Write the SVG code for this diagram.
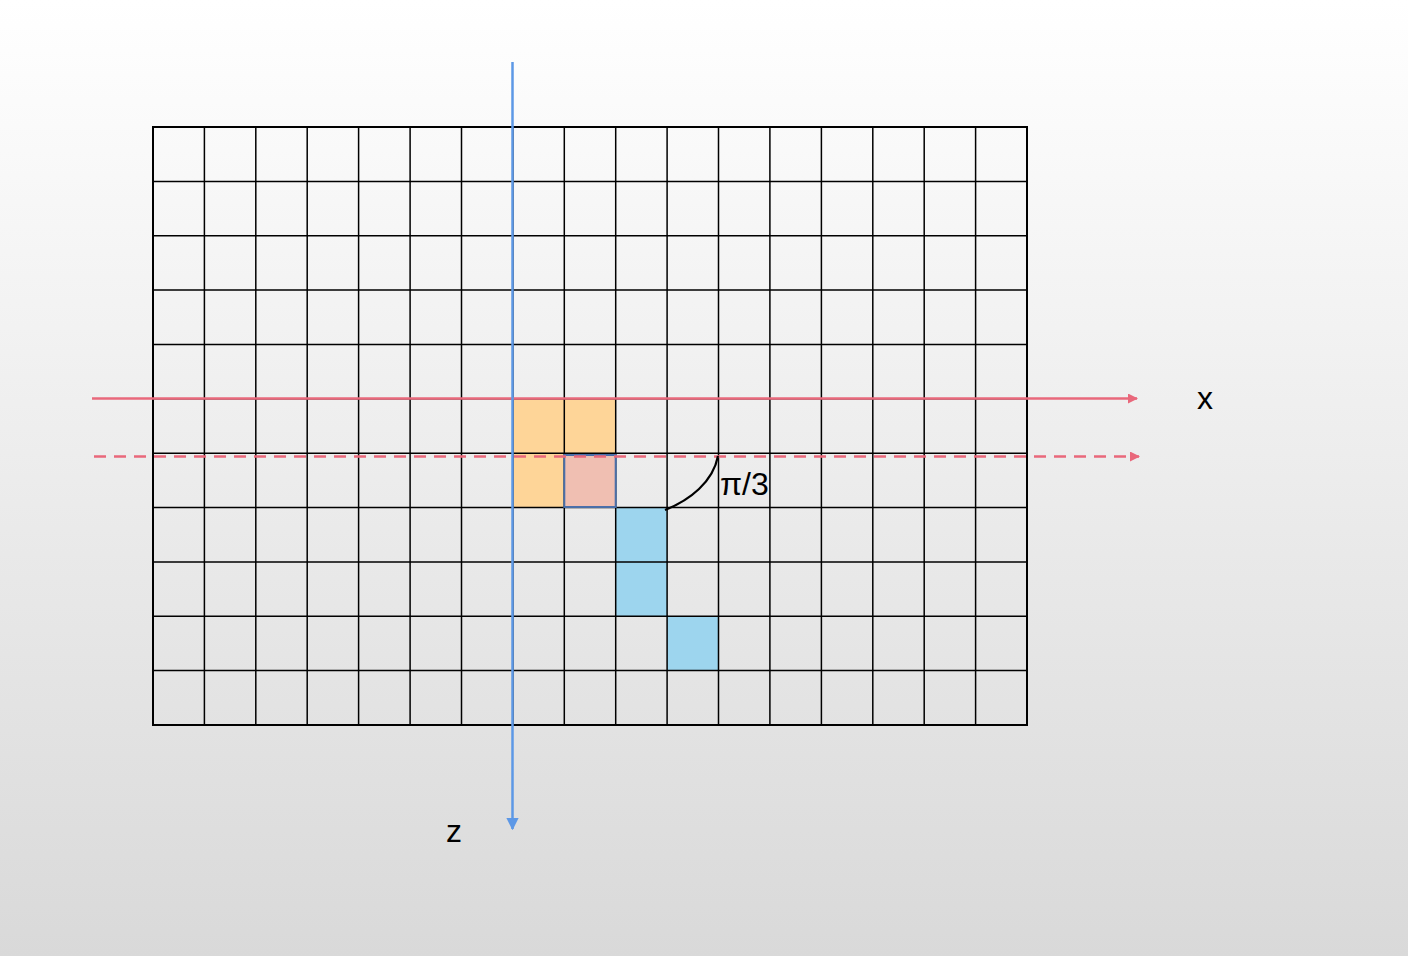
<svg xmlns="http://www.w3.org/2000/svg" width="1408" height="956" viewBox="0 0 1408 956">
<defs>
<linearGradient id="bg" x1="0" y1="0" x2="0" y2="1">
<stop offset="0" stop-color="#ffffff"/>
<stop offset="1" stop-color="#d9d9d9"/>
</linearGradient>
<marker id="ar" viewBox="0 0 10 10" refX="9" refY="5" markerWidth="4" markerHeight="4" orient="auto" markerUnits="strokeWidth">
<path d="M0,0 L10,5 L0,10 Z" fill="#e9687b"/>
</marker>
<marker id="ab" viewBox="0 0 10 10" refX="9" refY="5" markerWidth="5" markerHeight="5" orient="auto" markerUnits="strokeWidth">
<path d="M0,0 L10,5 L0,10 Z" fill="#5d98e6"/>
</marker>
</defs>
<style>
.grid{stroke:#000;stroke-width:1.5;fill:none}
.or{fill:#fed598}
.bl{fill:#9dd5ee}
.lbl{font-family:"Liberation Sans",Arial,sans-serif;fill:#000;font-size:32px}
</style>
<rect width="1408" height="956" fill="url(#bg)"/>
<g id="cells">
<rect class="or" x="512.9" y="398.8" width="51.4" height="54.4"/>
<rect class="or" x="564.3" y="398.8" width="51.4" height="54.4"/>
<rect class="or" x="512.9" y="453.2" width="51.4" height="54.3"/>
<rect class="bl" x="615.7" y="507.5" width="51.4" height="54.4"/>
<rect class="bl" x="615.7" y="561.9" width="51.4" height="54.4"/>
<rect class="bl" x="667.1" y="616.3" width="51.4" height="54.3"/>
</g>
<g id="grid">
<path class="grid" d="M153,127V725M204.4,127V725M255.8,127V725M307.2,127V725M358.6,127V725M410.1,127V725M461.5,127V725M512.9,127V725M564.3,127V725M615.7,127V725M667.1,127V725M718.5,127V725M769.9,127V725M821.4,127V725M872.8,127V725M924.2,127V725M975.6,127V725M1027,127V725"/>
<path class="grid" d="M153,127H1027M153,181.4H1027M153,235.7H1027M153,290.1H1027M153,344.5H1027M153,398.8H1027M153,453.2H1027M153,507.5H1027M153,561.9H1027M153,616.3H1027M153,670.6H1027M153,725H1027"/>
<rect x="153" y="127" width="874" height="598" fill="none" stroke="#000" stroke-width="2"/>
</g>
<g id="pink-cell">
<rect x="564.3" y="455" width="51.4" height="52" fill="#f0bfb2" stroke="#4a6fa9" stroke-width="2"/>
</g>
<g id="connectors">
<line x1="92" y1="398.5" x2="1137" y2="398.5" stroke="#e9687b" stroke-width="2.5" marker-end="url(#ar)"/>
<line x1="94" y1="456.5" x2="1139" y2="456.5" stroke="#e9687b" stroke-width="2.5" stroke-dasharray="12,8" marker-end="url(#ar)"/>
<line x1="512.5" y1="62" x2="512.5" y2="829" stroke="#5d98e6" stroke-width="2.5" marker-end="url(#ab)"/>
<path d="M665,510 C690,500 713,482 718,456" fill="none" stroke="#000" stroke-width="2.2"/>
</g>
<g id="labels">
<text class="lbl" x="720" y="495">π/3</text>
<text class="lbl" x="1197" y="409">x</text>
<text class="lbl" x="446" y="842">z</text>
</g>
</svg>
